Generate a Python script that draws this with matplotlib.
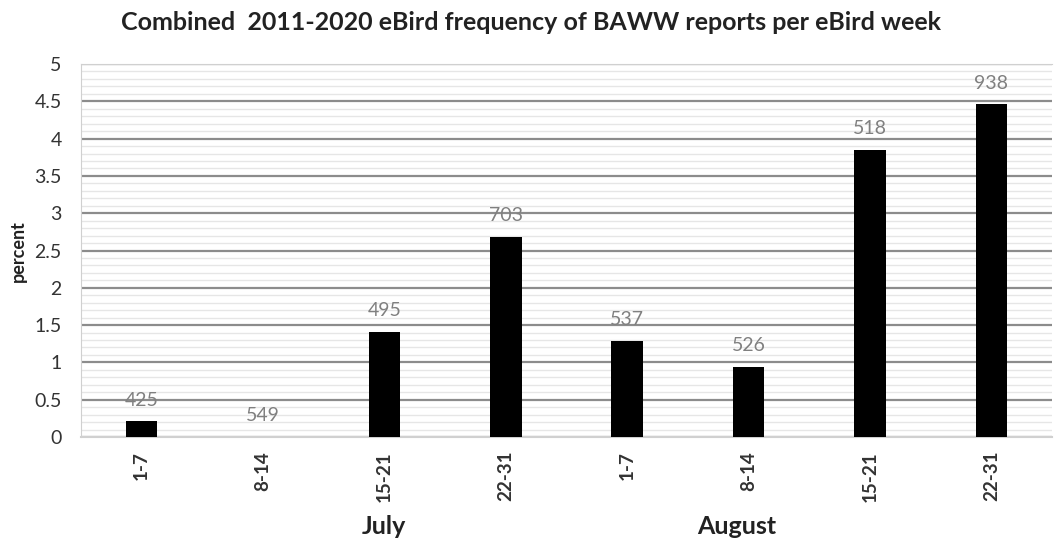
import matplotlib.pyplot as plt
import numpy as np

weeks = ["1-7", "8-14", "15-21", "22-31", "1-7", "8-14", "15-21", "22-31"]
percent = [0.21, 0.0, 1.41, 2.68, 1.29, 0.94, 3.85, 4.46]
reports = [425, 549, 495, 703, 537, 526, 518, 938]
months = ["July", "August"]
month_pos = [2.0, 4.9]

plt.rcParams['font.family'] = ['Lato', 'DejaVu Sans']

fig = plt.figure(figsize=(10.54, 5.41), dpi=100)
ax = fig.add_axes([81 / 1054, 1 - 437 / 541, (1052 - 81) / 1054, (437 - 64) / 541])

x = np.arange(len(weeks))
ax.bar(x, percent, width=0.26, color="black", linewidth=0, zorder=3)

# label each bar with the report count
for xi, p, r in zip(x, percent, reports):
    ax.text(xi, p + 0.17, str(r), ha="center", va="bottom", fontsize=14, color="#808080", zorder=4)

ax.set_xlim(-0.5, len(weeks) - 0.5)
ax.set_ylim(0, 5)
ax.set_yticks(np.arange(0, 5.01, 0.5))
ax.set_yticklabels(["0", "0.5", "1", "1.5", "2", "2.5", "3", "3.5", "4", "4.5", "5"])
ax.set_yticks(np.arange(0, 5.01, 0.1), minor=True)
ax.grid(axis="y", which="minor", color="#e6e6e6", linewidth=1.0, zorder=0)
ax.grid(axis="y", which="major", color="#8c8c8c", linewidth=1.6, zorder=1)
ax.tick_params(axis="y", which="both", length=0, labelsize=14, pad=14, labelcolor="#333333")

ax.set_xticks(x)
ax.set_xticklabels(weeks, rotation=90, fontsize=13.5, fontweight="bold", color="#333333")
ax.tick_params(axis="x", length=0, pad=10)

for s in ["left", "top"]:
    ax.spines[s].set_color("#d0d0d0")
ax.spines["right"].set_visible(False)
ax.spines["bottom"].set_color("#d0d0d0")
ax.spines["bottom"].set_linewidth(1.5)

for m, mp in zip(months, month_pos):
    ax.text(mp, -0.241, m, transform=ax.get_xaxis_transform(), ha="center", va="center",
            fontsize=18, fontweight="bold", color="#222222")

fig.text(18 / 1054, 1 - 251 / 541, "percent", rotation=90, ha="center", va="center",
         fontsize=13, fontweight="bold", color="#222222")
fig.text(531 / 1054, 1 - 22 / 541, "Combined  2011-2020 eBird frequency of BAWW reports per eBird week",
         ha="center", va="center", fontsize=18, fontweight="bold", color="#222222")

fig.savefig("out.png", dpi=100)
